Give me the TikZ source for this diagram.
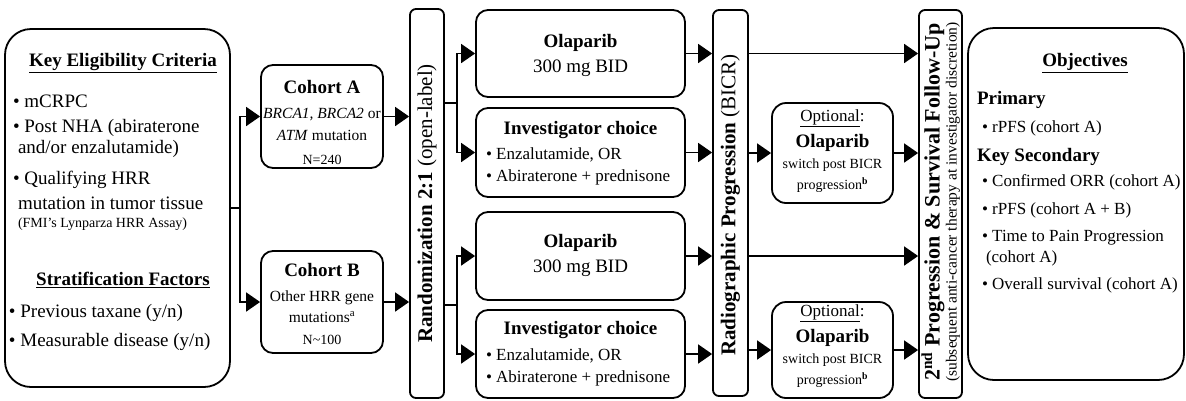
\documentclass[tikz,border=0pt]{standalone}
\usepackage{fontspec}
\setmainfont{Liberation Serif}
\usetikzlibrary{arrows.meta}
\newcommand{\fsz}[1]{\fontsize{#1}{#1}\selectfont}
\tikzset{
  box/.style={draw, line width=1.8pt, rounded corners=12pt, inner sep=0pt},
  bigbox/.style={box, rounded corners=26pt},
  barbox/.style={box, rounded corners=6pt},
  arr/.style={-{Triangle[length=14pt,width=19pt]}, line width=1.8pt},
  ln/.style={line width=1.8pt},
  t/.style={inner sep=0pt, outer sep=0pt},
  hd/.style={t, font=\fsz{19}\bfseries},
  bd/.style={t, font=\fsz{19}},
  md/.style={t, font=\fsz{17}},
  sm/.style={t, font=\fsz{15.5}},
  xs/.style={t, font=\fsz{14}},
  vt/.style={t, rotate=90, font=\fsz{21}},
}
\begin{document}
\begin{tikzpicture}[x=1pt,y=-1pt]
\useasboundingbox (0,0) rectangle (1186,400);
% ---------- boxes ----------
\node[bigbox, minimum width=225pt, minimum height=358pt] (elig) at (117.5,208) {};
\node[box, minimum width=122pt, minimum height=103pt] (cohA) at (322,116.5) {};
\node[box, minimum width=122pt, minimum height=102pt] (cohB) at (322,302) {};
\node[barbox, minimum width=34pt, minimum height=389pt] (rand) at (427,203.5) {};
\node[box, minimum width=209pt, minimum height=87pt] (olaA) at (580.5,53.5) {};
\node[box, minimum width=209pt, minimum height=89pt] (invA) at (580.5,152.5) {};
\node[box, minimum width=209pt, minimum height=88pt] (olaB) at (580.5,256) {};
\node[box, minimum width=209pt, minimum height=88pt] (invB) at (580.5,354) {};
\node[barbox, minimum width=35pt, minimum height=386pt] (radio) at (730.5,203) {};
\node[box, rounded corners=14pt, minimum width=121pt, minimum height=100pt] (optA) at (832.5,153) {};
\node[box, rounded corners=14pt, minimum width=121pt, minimum height=96pt] (optB) at (832.5,350) {};
\node[barbox, minimum width=43pt, minimum height=388pt] (fu) at (940.5,204) {};
\node[bigbox, minimum width=216pt, minimum height=352pt] (obj) at (1076,204) {};
% ---------- left box text ----------
\node[hd] (kec) at (123,63) {\underline{Key Eligibility Criteria}};
\node[bd, anchor=west] (e1) at (13,101) {\textbullet\ mCRPC};
\node[bd, anchor=west] (e2) at (13,128) {\textbullet\ Post NHA (abiraterone};
\node[bd, anchor=west] (e2b) at (18,149) {and/or enzalutamide)};
\node[bd, anchor=west] (e3) at (13,180) {\textbullet\ Qualifying HRR};
\node[bd, anchor=west] (e3b) at (18,203) {mutation in tumor tissue};
\node[xs, anchor=west] (e3c) at (18,224) {(FMI's Lynparza HRR Assay)};
\node[hd] (sf) at (123,280) {\underline{Stratification Factors}};
\node[bd, anchor=west] (s1) at (9,313) {\textbullet\ Previous taxane (y/n)};
\node[bd, anchor=west] (s2) at (9,342) {\textbullet\ Measurable disease (y/n)};
% ---------- cohorts ----------
\node[hd] (cAh) at (322,87) {Cohort A};
\node[sm] (cA1) at (322,115) {\textit{BRCA1, BRCA2} or};
\node[sm] (cA2) at (322,135) {\textit{ATM} mutation};
\node[xs] (cA3) at (322,160) {N=240};
\node[hd] (cBh) at (322,270) {Cohort B};
\node[sm] (cB1) at (322,298) {Other HRR gene};
\node[sm] (cB2) at (322,317) {mutations\textsuperscript{a}};
\node[xs] (cB3) at (322,340) {N\textasciitilde 100};
% ---------- bars ----------
\node[vt] (randT) at (427,203.5) {\textbf{Randomization 2:1} (open-label)};
\node[vt] (radioT) at (730.5,205) {\textbf{Radiographic Progression} (BICR)};
\node[t, rotate=90, font=\fsz{22}\bfseries] (fuT) at (933,202) {2\textsuperscript{nd} Progression \& Survival Follow-Up};
\node[t, rotate=90, font=\fsz{15.5}] (fuS) at (953,202) {(subsequent anti-cancer therapy at investigator discretion)};
% ---------- treatments ----------
\node[hd] (oAh) at (580.5,43) {Olaparib};
\node[bd] (oA1) at (580.5,68) {300 mg BID};
\node[hd] (iAh) at (580.5,130) {Investigator choice};
\node[md, anchor=west] (iA1) at (486,155) {\textbullet\ Enzalutamide, OR};
\node[md, anchor=west] (iA2) at (486,177) {\textbullet\ Abiraterone + prednisone};
\node[hd] (oBh) at (580.5,243) {Olaparib};
\node[bd] (oB1) at (580.5,268) {300 mg BID};
\node[hd] (iBh) at (580.5,330) {Investigator choice};
\node[md, anchor=west] (iB1) at (486,356) {\textbullet\ Enzalutamide, OR};
\node[md, anchor=west] (iB2) at (486,378) {\textbullet\ Abiraterone + prednisone};
% ---------- optional ----------
\node[md] (pAh) at (832.5,118) {\underline{Optional}:};
\node[hd] (pA1) at (832.5,143) {Olaparib};
\node[xs] (pA2) at (832.5,165) {switch post BICR};
\node[xs] (pA3) at (832.5,185) {progression\textsuperscript{\textbf{b}}};
\node[md] (pBh) at (832.5,313) {\underline{Optional}:};
\node[hd] (pB1) at (832.5,338) {Olaparib};
\node[xs] (pB2) at (832.5,360) {switch post BICR};
\node[xs] (pB3) at (832.5,380) {progression\textsuperscript{\textbf{b}}};
% ---------- objectives ----------
\node[hd] (ob) at (1085,63) {\underline{Objectives}};
\node[hd, anchor=west] (pr) at (977,100) {Primary};
\node[md, anchor=west] (o1) at (982,128) {\textbullet\ rPFS (cohort A)};
\node[hd, anchor=west] (ks) at (977,157) {Key Secondary};
\node[md, anchor=west] (o2) at (982,182) {\textbullet\ Confirmed ORR (cohort A)};
\node[md, anchor=west] (o3) at (982,210) {\textbullet\ rPFS (cohort A + B)};
\node[md, anchor=west] (o4) at (982,238) {\textbullet\ Time to Pain Progression};
\node[md, anchor=west] (o4b) at (986,258) {(cohort A)};
\node[md, anchor=west] (o5) at (982,285) {\textbullet\ Overall survival (cohort A)};
% ---------- connectors ----------
\coordinate (b1) at (240,208);
\draw[ln] (elig.east) -- (b1);
\draw[arr] (b1) |- (cohA.west);
\draw[arr] (b1) |- (cohB.west);
\draw[arr] (cohA.east) -- (cohA.east -| rand.west);
\draw[arr] (cohB.east) -- (cohB.east -| rand.west);
\coordinate (b2) at (457,103);
\coordinate (b3) at (457,305);
\draw[ln] (rand.east |- b2) -- (b2);
\draw[ln] (rand.east |- b3) -- (b3);
\draw[arr] (b2) |- (olaA.west);
\draw[arr] (b2) |- (invA.west);
\draw[arr] (b3) |- (olaB.west);
\draw[arr] (b3) |- (invB.west);
\draw[arr] (olaA.east) -- (olaA.east -| radio.west);
\draw[arr] (invA.east) -- (invA.east -| radio.west);
\draw[arr] (olaB.east) -- (olaB.east -| radio.west);
\draw[arr] (invB.east) -- (invB.east -| radio.west);
\draw[arr] (radio.east |- olaA) -- (fu.west |- olaA);
\draw[arr] (radio.east |- optA) -- (optA.west);
\draw[arr] (optA.east) -- (optA.east -| fu.west);
\draw[arr] (radio.east |- olaB) -- (fu.west |- olaB);
\draw[arr] (radio.east |- optB) -- (optB.west);
\draw[arr] (optB.east) -- (optB.east -| fu.west);
\end{tikzpicture}
\end{document}
